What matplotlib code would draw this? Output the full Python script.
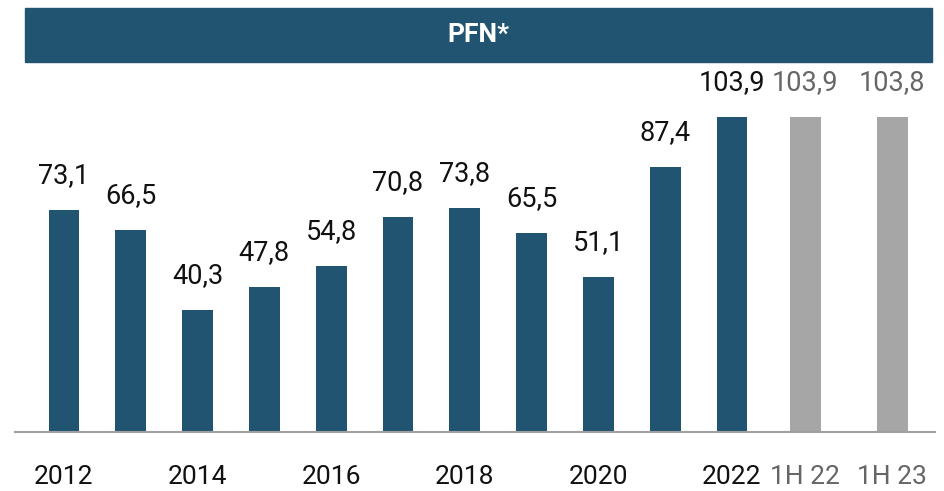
import numpy as np
import matplotlib.pyplot as plt
from matplotlib.patches import Rectangle

categories = ['2012', '2013', '2014', '2015', '2016', '2017', '2018', '2019',
              '2020', '2021', '2022', '1H 22', '1H 23']
values = [73.1, 66.5, 40.3, 47.8, 54.8, 70.8, 73.8, 65.5, 51.1, 87.4, 103.9, 103.9, 103.8]
tick_labels = ['2012', '', '2014', '', '2016', '', '2018', '', '2020', '', '2022', '1H 22', '1H 23']
is_half = [False] * 11 + [True, True]

blue = '#215471'
gray = '#a6a6a6'

plt.rcParams['font.family'] = ['Roboto', 'DejaVu Sans']

W, H = 944, 491
fig = plt.figure(figsize=(W / 100, H / 100), dpi=100)

# axes placed in pixel coords: baseline at y=432, top at y=62, x from 15 to 935
ax = fig.add_axes([15 / W, (H - 432) / H, 920 / W, 370 / H])

x = np.concatenate([np.arange(11), [11.1, 12.4]])
colors = [gray if h else blue for h in is_half]
ax.bar(x, values, width=0.46, color=colors, zorder=2)

for xi, v, h in zip(x, values, is_half):
    ax.annotate(f'{v:.1f}'.replace('.', ','), (xi, v), xytext=(0, 15),
                textcoords='offset points', ha='center', va='bottom',
                fontsize=19.5, color='#666666' if h else '#111111')

ax.set_xlim(-0.733, 13.04)
ax.set_ylim(0, 122)
ax.set_xticks(x)
ax.set_xticklabels(tick_labels, fontsize=19)
for lbl, h in zip(ax.get_xticklabels(), is_half):
    lbl.set_color('#666666' if h else '#111111')
ax.tick_params(axis='x', length=0, pad=24)
ax.set_yticks([])
for s in ['top', 'right', 'left']:
    ax.spines[s].set_visible(False)
ax.spines['bottom'].set_color('#a0a0a0')
ax.spines['bottom'].set_linewidth(1.5)

# header band
fig.patches.append(Rectangle((25 / W, (H - 62) / H), 907 / W, 54 / H,
                             transform=fig.transFigure, color=blue, zorder=0))
fig.text(478 / W, (H - 35) / H, 'PFN*', color='white', fontsize=19,
         fontweight='bold', ha='center', va='center')

fig.savefig('out.png', dpi=100)
